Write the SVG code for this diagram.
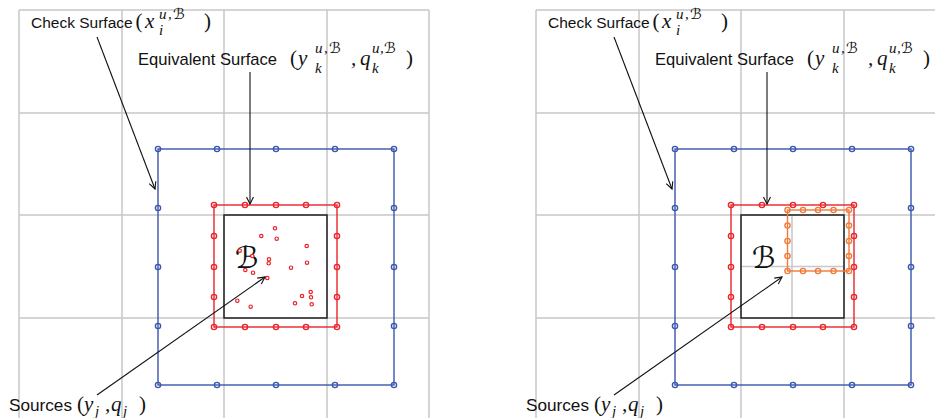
<svg xmlns="http://www.w3.org/2000/svg" width="935" height="418" viewBox="0 0 935 418">
<style>
.grid{stroke:#c8c8c8;stroke-width:1.5;fill:none}
.cell{stroke:#222;stroke-width:1.5;fill:none}
.blue{stroke:#3a56ad;stroke-width:1.4;fill:none}
.red{stroke:#e8242c;stroke-width:1.4;fill:none}
.orange{stroke:#f07a3a;stroke-width:1.4;fill:none}
.src{stroke:#e8242c;stroke-width:1.2;fill:#fff}
.arrow{stroke:#111;stroke-width:1.1;fill:none;marker-end:url(#ah)}
.lbl{font-family:"Liberation Sans",Arial,sans-serif;font-size:17px;fill:#111}
.lbl2{font-family:"Liberation Sans",Arial,sans-serif;font-size:15.5px;fill:#111}
.m{font-family:"Liberation Serif","DejaVu Serif",serif;font-style:italic;font-size:21px;fill:#111}
.mu{font-family:"Liberation Serif","DejaVu Serif",serif;font-size:21px;fill:#111}
.s{font-family:"Liberation Serif","DejaVu Serif",serif;font-style:italic;font-size:15px;fill:#111}
.sc{font-family:"DejaVu Sans",sans-serif;font-style:italic;font-size:15px;fill:#111}
.cal{font-family:"DejaVu Sans",sans-serif;font-style:italic;font-size:30px;fill:#111}
</style>
<defs>
<marker id="ah" viewBox="-8 -5 10 10" markerWidth="10" markerHeight="10" refX="0" refY="0" orient="auto" markerUnits="userSpaceOnUse">
<path d="M-7,-3.5 L0,0 L-7,3.5" fill="none" stroke="#111" stroke-width="1.1"/>
</marker>
</defs>

<g id="grid-left" class="grid">
<path d="M19,10V418M122,10V418M224,10V418M327,10V418M429,10V418M19,10H429M19,113H429M19,215H429M19,318H429"/>
</g>
<g id="grid-right" class="grid">
<path d="M536,10V418M639,10V418M741,10V418M844,10V418M536,10H935M536,113H935M536,215H935M536,318H935"/>
<path d="M792,215V318M741,266.5H844"/>
</g>

<g id="box-left">
<rect class="cell" x="224" y="215" width="103" height="103"/>
<text class="cal" x="235" y="268">ℬ</text>
</g>
<g id="box-right">
<rect class="cell" x="741" y="215" width="103" height="103"/>
<text class="cal" x="752" y="268">ℬ</text>
</g>

<g id="check-surface-left" class="blue">
<rect x="158" y="149" width="236" height="236"/>
<circle cx="158" cy="149" r="2.6"/><circle cx="217" cy="149" r="2.6"/><circle cx="276" cy="149" r="2.6"/><circle cx="335" cy="149" r="2.6"/><circle cx="394" cy="149" r="2.6"/>
<circle cx="158" cy="385" r="2.6"/><circle cx="217" cy="385" r="2.6"/><circle cx="276" cy="385" r="2.6"/><circle cx="335" cy="385" r="2.6"/><circle cx="394" cy="385" r="2.6"/>
<circle cx="158" cy="208" r="2.6"/><circle cx="158" cy="267" r="2.6"/><circle cx="158" cy="326" r="2.6"/>
<circle cx="394" cy="208" r="2.6"/><circle cx="394" cy="267" r="2.6"/><circle cx="394" cy="326" r="2.6"/>
</g>
<g id="check-surface-right" class="blue" transform="translate(517,0)">
<rect x="158" y="149" width="236" height="236"/>
<circle cx="158" cy="149" r="2.6"/><circle cx="217" cy="149" r="2.6"/><circle cx="276" cy="149" r="2.6"/><circle cx="335" cy="149" r="2.6"/><circle cx="394" cy="149" r="2.6"/>
<circle cx="158" cy="385" r="2.6"/><circle cx="217" cy="385" r="2.6"/><circle cx="276" cy="385" r="2.6"/><circle cx="335" cy="385" r="2.6"/><circle cx="394" cy="385" r="2.6"/>
<circle cx="158" cy="208" r="2.6"/><circle cx="158" cy="267" r="2.6"/><circle cx="158" cy="326" r="2.6"/>
<circle cx="394" cy="208" r="2.6"/><circle cx="394" cy="267" r="2.6"/><circle cx="394" cy="326" r="2.6"/>
</g>

<g id="equiv-surface-left" class="red">
<rect x="214" y="205" width="123" height="122"/>
<circle cx="214" cy="205" r="2.6"/><circle cx="245" cy="205" r="2.6"/><circle cx="276" cy="205" r="2.6"/><circle cx="306" cy="205" r="2.6"/><circle cx="337" cy="205" r="2.6"/>
<circle cx="214" cy="327" r="2.6"/><circle cx="245" cy="327" r="2.6"/><circle cx="276" cy="327" r="2.6"/><circle cx="306" cy="327" r="2.6"/><circle cx="337" cy="327" r="2.6"/>
<circle cx="214" cy="236" r="2.6"/><circle cx="214" cy="267" r="2.6"/><circle cx="214" cy="297" r="2.6"/>
<circle cx="337" cy="236" r="2.6"/><circle cx="337" cy="267" r="2.6"/><circle cx="337" cy="297" r="2.6"/>
</g>
<g id="equiv-surface-right" class="red" transform="translate(517,0)">
<rect x="214" y="205" width="123" height="122"/>
<circle cx="214" cy="205" r="2.6"/><circle cx="245" cy="205" r="2.6"/><circle cx="276" cy="205" r="2.6"/><circle cx="306" cy="205" r="2.6"/><circle cx="337" cy="205" r="2.6"/>
<circle cx="214" cy="327" r="2.6"/><circle cx="245" cy="327" r="2.6"/><circle cx="276" cy="327" r="2.6"/><circle cx="306" cy="327" r="2.6"/><circle cx="337" cy="327" r="2.6"/>
<circle cx="214" cy="236" r="2.6"/><circle cx="214" cy="267" r="2.6"/><circle cx="214" cy="297" r="2.6"/>
<circle cx="337" cy="236" r="2.6"/><circle cx="337" cy="267" r="2.6"/><circle cx="337" cy="297" r="2.6"/>
</g>

<g id="child-equiv-right" class="orange">
<rect x="787.5" y="210" width="61.5" height="61"/>
<circle cx="787.5" cy="210" r="2.6"/><circle cx="803" cy="210" r="2.6"/><circle cx="818" cy="210" r="2.6"/><circle cx="833.5" cy="210" r="2.6"/><circle cx="849" cy="210" r="2.6"/>
<circle cx="787.5" cy="271" r="2.6"/><circle cx="803" cy="271" r="2.6"/><circle cx="818" cy="271" r="2.6"/><circle cx="833.5" cy="271" r="2.6"/><circle cx="849" cy="271" r="2.6"/>
<circle cx="787.5" cy="225.5" r="2.6"/><circle cx="787.5" cy="241" r="2.6"/><circle cx="787.5" cy="256" r="2.6"/>
<circle cx="849" cy="225.5" r="2.6"/><circle cx="849" cy="241" r="2.6"/><circle cx="849" cy="256" r="2.6"/>
</g>

<g id="sources-left" class="src">
<circle cx="275" cy="228.3" r="1.7"/><circle cx="261.3" cy="236" r="1.7"/><circle cx="276.7" cy="238.7" r="1.7"/><circle cx="239.7" cy="250.7" r="1.7"/>
<circle cx="252.3" cy="256" r="1.7"/><circle cx="306.7" cy="246" r="1.7"/><circle cx="269" cy="259.3" r="1.7"/><circle cx="268.7" cy="263.3" r="1.7"/>
<circle cx="245.3" cy="270" r="1.7"/><circle cx="253" cy="272.7" r="1.7"/><circle cx="291" cy="267.7" r="1.7"/><circle cx="307" cy="262.7" r="1.7"/>
<circle cx="267.3" cy="278" r="1.7"/><circle cx="310.7" cy="292" r="1.7"/><circle cx="302" cy="296" r="1.7"/><circle cx="311" cy="297.3" r="1.7"/>
<circle cx="237.3" cy="300.7" r="1.7"/><circle cx="295" cy="303.3" r="1.7"/><circle cx="250.7" cy="306.7" r="1.7"/><circle cx="311.7" cy="304.3" r="1.7"/>
</g>

<g id="connectors">
<path class="arrow" d="M97,37L155,189"/>
<path class="arrow" d="M250,72V204"/>
<path class="arrow" d="M97,395L265,277"/>
<path class="arrow" d="M614,37L672,189"/>
<path class="arrow" d="M767,72V204"/>
<path class="arrow" d="M614,395L782,277"/>
</g>

<g id="labels-left">
<text class="lbl2" x="31" y="28">Check Surface</text>
<text class="mu" x="135.5" y="28">(</text><text class="m" x="145" y="28">x</text><text class="s" x="159" y="35">i</text><text class="s" x="159" y="19">u</text><text class="s" x="168" y="19">,</text><text class="sc" x="173" y="19">ℬ</text><text class="mu" x="204" y="28">)</text>
<text class="lbl" x="138" y="65" textLength="139" lengthAdjust="spacingAndGlyphs">Equivalent Surface</text>
<text class="mu" x="290" y="65">(</text><text class="m" x="298" y="65">y</text><text class="s" x="315" y="73">k</text><text class="s" x="315" y="53">u</text><text class="s" x="324" y="53">,</text><text class="sc" x="329" y="53">ℬ</text>
<text class="m" x="351" y="65">,</text><text class="m" x="360" y="65">q</text><text class="s" x="372" y="73">k</text><text class="s" x="372" y="53">u</text><text class="s" x="380" y="53">,</text><text class="sc" x="384" y="53">ℬ</text><text class="mu" x="406" y="65">)</text>
<text class="lbl" x="9" y="411" textLength="63" lengthAdjust="spacingAndGlyphs">Sources</text>
<text class="mu" x="77" y="411">(</text><text class="m" x="84" y="411">y</text><text class="s" x="95" y="416">j</text><text class="m" x="105" y="411">,</text><text class="m" x="111" y="411">q</text><text class="s" x="123" y="416">j</text><text class="mu" x="139" y="411">)</text>
</g>
<g id="labels-right" transform="translate(517,0)">
<text class="lbl2" x="31" y="28">Check Surface</text>
<text class="mu" x="135.5" y="28">(</text><text class="m" x="145" y="28">x</text><text class="s" x="159" y="35">i</text><text class="s" x="159" y="19">u</text><text class="s" x="168" y="19">,</text><text class="sc" x="173" y="19">ℬ</text><text class="mu" x="204" y="28">)</text>
<text class="lbl" x="138" y="65" textLength="139" lengthAdjust="spacingAndGlyphs">Equivalent Surface</text>
<text class="mu" x="290" y="65">(</text><text class="m" x="298" y="65">y</text><text class="s" x="315" y="73">k</text><text class="s" x="315" y="53">u</text><text class="s" x="324" y="53">,</text><text class="sc" x="329" y="53">ℬ</text>
<text class="m" x="351" y="65">,</text><text class="m" x="360" y="65">q</text><text class="s" x="372" y="73">k</text><text class="s" x="372" y="53">u</text><text class="s" x="380" y="53">,</text><text class="sc" x="384" y="53">ℬ</text><text class="mu" x="406" y="65">)</text>
<text class="lbl" x="9" y="411" textLength="63" lengthAdjust="spacingAndGlyphs">Sources</text>
<text class="mu" x="77" y="411">(</text><text class="m" x="84" y="411">y</text><text class="s" x="95" y="416">j</text><text class="m" x="105" y="411">,</text><text class="m" x="111" y="411">q</text><text class="s" x="123" y="416">j</text><text class="mu" x="139" y="411">)</text>
</g>
</svg>
